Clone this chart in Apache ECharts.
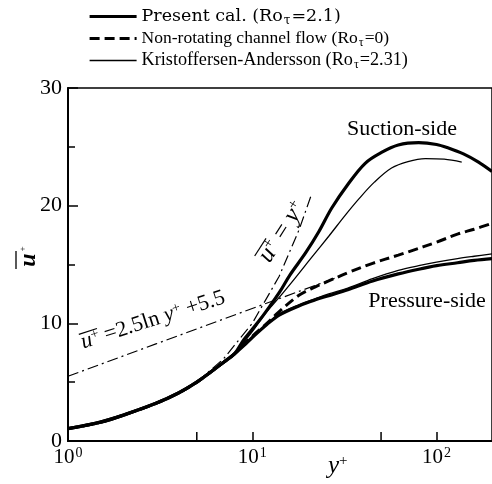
<!DOCTYPE html>
<html>
<head>
<meta charset="utf-8">
<script src="https://cdn.jsdelivr.net/npm/echarts@6/dist/echarts.min.js"></script>
<style>
html,body{margin:0;padding:0;background:#fff;}
#c{width:492px;height:484px;}
</style>
</head>
<body>
<div id="c"></div>
<script>
// ---- data ----
const wallX = [1, 1.5, 2, 3, 4, 5, 6, 7, 8];
const wallU = [1.05, 1.6, 2.2, 3.2, 4.1, 5.0, 5.9, 6.7, 7.4];

const presSuctionX = [9, 10, 11, 12, 14, 16, 19.5, 23, 27, 33, 41, 50, 62, 80, 100, 116, 140, 169, 200];
const presSuctionU = [8.6, 9.5, 10.3, 11.1, 12.6, 14.1, 16.0, 17.8, 19.8, 21.8, 23.6, 24.5, 25.15, 25.35, 25.2, 24.9, 24.4, 23.7, 22.9];

const presPressX = [9, 10, 12, 14, 18, 22, 26, 33, 45, 62, 80, 100, 130, 160, 200];
const presPressU = [8.1, 8.8, 9.9, 10.7, 11.5, 12.0, 12.35, 12.85, 13.6, 14.2, 14.6, 14.9, 15.15, 15.35, 15.5];

const nonRotX = [9, 10, 12, 14, 18, 22, 26, 33, 45, 62, 71, 100, 131, 160, 200];
const nonRotU = [8.2, 8.9, 10.0, 11.0, 12.4, 13.1, 13.6, 14.3, 15.1, 15.8, 16.1, 16.9, 17.6, 18.0, 18.5];

const kaSuctionX = [9, 10, 11, 12, 14, 17, 21, 26, 32, 38, 46, 57, 70, 87, 110, 137];
const kaSuctionU = [8.4, 9.3, 10.2, 11.0, 12.2, 13.8, 15.6, 17.4, 19.2, 20.6, 22.0, 23.2, 23.75, 24.0, 23.95, 23.7];

const kaPressX = [9, 10, 12, 14, 18, 22, 26, 33, 45, 62, 80, 100, 130, 160, 200];
const kaPressU = [8.1, 8.8, 9.9, 10.8, 11.6, 12.1, 12.5, 13.0, 13.8, 14.5, 14.9, 15.2, 15.5, 15.7, 15.9];

// reference laws
const viscX = [5, 7, 10, 14, 18, 21];
const viscU = [5, 7, 10, 14, 18, 21];
const logLawX = [1, 3, 10, 30];
const logLawU = [5.5, 8.25, 11.26, 14.0];

const xMinorTicks = [5, 50];
const yTicks = [0, 10, 20, 30];

const legendNames = ['Present cal.', 'Non-rotating channel flow', 'Kristoffersen-Andersson'];
const legendRo = ['=2.1)', '=0)', '=2.31)'];

const SERIF = '"Liberation Serif", "DejaVu Serif", serif';
const WIDESERIF = '"DejaVu Serif", "Liberation Serif", serif';

function zip(xs, us) { return xs.map((x, i) => [x, us[i]]); }
function withWall(xs, us) { return zip(wallX.concat(xs), wallU.concat(us)); }

const chart = echarts.init(document.getElementById('c'), null, {renderer: 'canvas'});

const thick = {color: '#000', width: 3.2};
const thin = {color: '#000', width: 1.3};
const dashed = {color: '#000', width: 3, type: [10, 5]};
const dashDot = {color: '#000', width: 1.2, type: [11, 4, 2, 4]};
const noSym = {color: 'rgba(0,0,0,0)', borderWidth: 0, opacity: 0};

function legendText(family, size) {
  return {
    fontFamily: family, fontSize: size, color: '#000', lineHeight: 21,
    rich: { t: {fontFamily: family, fontSize: 12, verticalAlign: 'bottom', lineHeight: 21, padding: [0, 1, 0, 1]} }
  };
}

const option = {
  backgroundColor: '#fff',
  animation: false,
  legend: {
    data: [
      {name: legendNames[0], lineStyle: thick, itemStyle: noSym, textStyle: legendText(WIDESERIF, 17.5)},
      {name: legendNames[1], lineStyle: dashed, itemStyle: noSym, textStyle: legendText(SERIF, 17.5)},
      {name: legendNames[2], lineStyle: thin, itemStyle: noSym, textStyle: legendText(SERIF, 18.2)}
    ],
    orient: 'vertical',
    left: 83,
    top: 1,
    itemWidth: 47,
    itemHeight: 14,
    itemGap: 1,
    itemStyle: noSym,
    textStyle: legendText(SERIF, 18.2),
    formatter: function (name) {
      const i = legendNames.indexOf(name);
      return name + ' (Ro{t|τ}' + legendRo[i];
    }
  },
  grid: {left: 68, right: -2, top: 88, bottom: 43, show: true, borderColor: '#000', borderWidth: 1.5, containLabel: false},
  xAxis: {
    type: 'log', logBase: 10, min: 1, max: 200,
    axisLine: {show: true, lineStyle: {color: '#000', width: 2}},
    axisTick: {show: true, inside: true, length: 9, lineStyle: {color: '#000', width: 1.5}},
    splitLine: {show: false},
    axisLabel: {
      showMaxLabel: false,
      margin: 5,
      color: '#000', fontFamily: SERIF, fontSize: 21,
      formatter: function (v) {
        const e = Math.round(Math.log10(v));
        if (Math.abs(Math.log10(v) - e) > 1e-6) return '';
        return '10{s|' + e + '}';
      },
      rich: { s: {fontFamily: SERIF, fontSize: 14, verticalAlign: 'top', color: '#000', padding: [0, 0, 8, 1]} }
    }
  },
  yAxis: {
    type: 'value', min: yTicks[0], max: yTicks[yTicks.length - 1], interval: 10,
    axisLine: {show: true, lineStyle: {color: '#000', width: 2}},
    axisTick: {show: true, inside: true, length: 10, lineStyle: {color: '#000', width: 1.5}},
    minorTick: {show: true, splitNumber: 2, length: 7, lineStyle: {color: '#000', width: 1.5}},
    splitLine: {show: false},
    axisLabel: {color: '#000', fontFamily: SERIF, fontSize: 22, margin: 6}
  },
  series: [
    {name: 'visc', type: 'line', data: zip(viscX, viscU), showSymbol: false, symbol: 'none', lineStyle: dashDot, silent: true},
    {name: 'loglaw', type: 'line', data: zip(logLawX, logLawU), showSymbol: false, symbol: 'none', lineStyle: dashDot, silent: true},
    {name: legendNames[1], type: 'line', data: withWall(nonRotX, nonRotU), symbol: 'none', smooth: 0.35, lineStyle: dashed, itemStyle: {color: '#000'}},
    {name: legendNames[2], type: 'line', data: withWall(kaSuctionX, kaSuctionU), symbol: 'none', smooth: 0.35, lineStyle: thin, itemStyle: {color: '#000'}},
    {name: legendNames[2], type: 'line', data: withWall(kaPressX, kaPressU), symbol: 'none', smooth: 0.35, lineStyle: thin, itemStyle: {color: '#000'}},
    {name: legendNames[0], type: 'line', data: withWall(presSuctionX, presSuctionU), symbol: 'none', smooth: 0.35, lineStyle: thick, itemStyle: {color: '#000'}},
    {name: legendNames[0], type: 'line', data: withWall(presPressX, presPressU), symbol: 'none', smooth: 0.35, lineStyle: thick, itemStyle: {color: '#000'}},
    {
      name: 'xminor', type: 'custom', silent: true,
      data: xMinorTicks.map(v => [v, 0]),
      renderItem: function (params, api) {
        const p = api.coord([api.value(0), 0]);
        return {type: 'line', shape: {x1: p[0], y1: p[1], x2: p[0], y2: p[1] - 9}, style: {stroke: '#000', lineWidth: 1.5}};
      }
    }
  ],
  graphic: [
    // y-axis title: overlined u with superscript mark, rotated
    {type: 'group', x: 29, y: 260, rotation: Math.PI / 2, children: [
      {type: 'text', x: 0, y: 0, style: {text: 'u', font: 'italic bold 24px ' + SERIF, fill: '#000', align: 'center', verticalAlign: 'middle'}},
      {type: 'line', shape: {x1: -9, y1: -13, x2: 9, y2: -13}, style: {stroke: '#000', lineWidth: 1.3}},
      {type: 'text', x: 11, y: -6, style: {text: '+', font: '9px ' + SERIF, fill: '#000', align: 'center', verticalAlign: 'middle'}}
    ]},
    // x-axis title
    {type: 'text', x: 328, y: 466, style: {text: '{i|y}{s|+}', fill: '#000', verticalAlign: 'middle', align: 'left',
      rich: {i: {font: 'italic 25px ' + SERIF, fill: '#000'}, s: {font: '15px ' + SERIF, fill: '#000', verticalAlign: 'top'}}}},
    // side labels
    {type: 'text', x: 402, y: 129, style: {text: 'Suction-side', font: '22px ' + SERIF, fill: '#000', align: 'center', verticalAlign: 'middle'}},
    {type: 'text', x: 427, y: 301, style: {text: 'Pressure-side', font: '22px ' + SERIF, fill: '#000', align: 'center', verticalAlign: 'middle'}},
    // u+ = y+ label
    {type: 'group', x: 282, y: 232, rotation: 1.0, children: [
      {type: 'text', x: 0, y: 0, style: {text: '{i|u}{s|+} = {i|y}{s|+}', font: '25px ' + SERIF, fill: '#000', align: 'center', verticalAlign: 'middle',
        rich: {i: {font: 'italic 25px ' + SERIF, fill: '#000'}, s: {font: '15px ' + SERIF, fill: '#000', verticalAlign: 'top'}}}},
      {type: 'line', shape: {x1: -35, y1: -10, x2: -14, y2: -10}, style: {stroke: '#000', lineWidth: 1.2}}
    ]},
    // log-law label
    {type: 'group', x: 153, y: 320, rotation: 0.31, children: [
      {type: 'text', x: 0, y: 0, style: {text: '{i|u}{s|+} =2.5ln {i|y}{s|+} +5.5', font: '22px ' + SERIF, fill: '#000', align: 'center', verticalAlign: 'middle',
        rich: {i: {font: 'italic 22px ' + SERIF, fill: '#000'}, s: {font: '14px ' + SERIF, fill: '#000', verticalAlign: 'top'}}}},
      {type: 'line', shape: {x1: -75, y1: -9, x2: -56, y2: -9}, style: {stroke: '#000', lineWidth: 1.2}}
    ]}
  ]
};
chart.setOption(option);
</script>
</body>
</html>
